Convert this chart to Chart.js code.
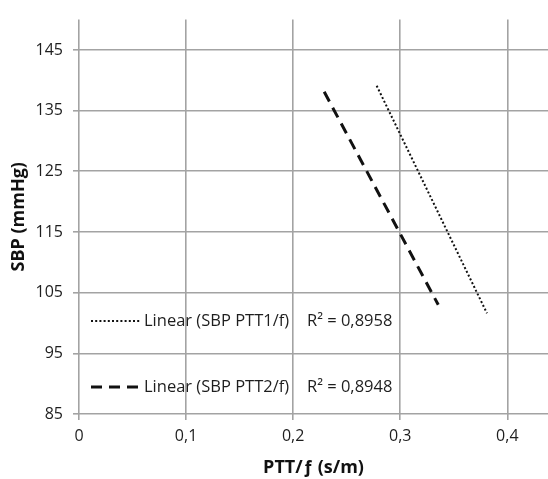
<!DOCTYPE html>
<html>
<head>
<meta charset="utf-8">
<script src="https://cdn.jsdelivr.net/npm/chart.js@4/dist/chart.umd.min.js"></script>
<style>
  html, body { margin: 0; padding: 0; background: #fff; overflow: hidden; }
  #wrap { position: relative; width: 548px; height: 479px; }
</style>
</head>
<body>
<div id="wrap"><canvas id="sbpChart"></canvas></div>
<script>
// trend lines SBP vs PTT/f (endpoints)
const seriesNames = ["Linear (SBP PTT1/f)", "Linear (SBP PTT2/f)"];
const r2Labels = ["R\u00B2 = 0,8958", "R\u00B2 = 0,8948"];
const ptt1X = [0.278, 0.381];
const ptt1Y = [139.1, 101.6];
const ptt2X = [0.229, 0.3355];
const ptt2Y = [138.1, 103.0];
const xTicks = [0, 0.1, 0.2, 0.3, 0.4];
const yTicks = [85, 95, 105, 115, 125, 135, 145];

const FONT = "'Open Sans', Lato, sans-serif";
const gridColor = "#a3a3a3";
const textColor = "#1e1e1e";

function toPoints(xs, ys) {
  return xs.map((x, i) => ({ x: x, y: ys[i] }));
}

// legend drawn inside plot, like the excel one
const insideLegend = {
  id: "insideLegend",
  afterDraw(chart) {
    const ctx = chart.ctx;
    const rowsY = [321, 387];
    ctx.save();
    rowsY.forEach((y, i) => {
      const ds = chart.data.datasets[i];
      ctx.beginPath();
      ctx.setLineDash(ds.borderDash);
      ctx.lineWidth = ds.borderWidth;
      ctx.strokeStyle = ds.borderColor;
      ctx.moveTo(91, y);
      ctx.lineTo(141, y);
      ctx.stroke();
      ctx.setLineDash([]);
      ctx.fillStyle = textColor;
      ctx.font = "16.5px " + FONT;
      ctx.textBaseline = "middle";
      ctx.textAlign = "left";
      ctx.fillText(seriesNames[i], 144, y);
      ctx.fillText(r2Labels[i], 307, y);
    });
    ctx.restore();
  },
};

const ctx = document.getElementById("sbpChart").getContext("2d");
new Chart(ctx, {
  type: "scatter",
  data: {
    datasets: [
      {
        label: seriesNames[0],
        data: toPoints(ptt1X, ptt1Y),
        showLine: true,
        borderColor: "#111",
        borderWidth: 2,
        borderDash: [2, 2.2],
        pointRadius: 0,
      },
      {
        label: seriesNames[1],
        data: toPoints(ptt2X, ptt2Y),
        showLine: true,
        borderColor: "#111",
        borderWidth: 3,
        borderDash: [11, 7],
        pointRadius: 0,
      },
    ],
  },
  options: {
    responsive: true,
    maintainAspectRatio: false,
    animation: false,
    layout: { padding: { top: 14, right: 0, left: 0, bottom: 0 } },
    plugins: {
      legend: { display: false },
      tooltip: { enabled: false },
    },
    scales: {
      x: {
        type: "linear",
        min: 0,
        max: 0.438,
        afterBuildTicks: (scale) => {
          scale.ticks = xTicks.map((v) => ({ value: v }));
        },
        afterFit: (scale) => {
          scale.height = 65;
        },
        border: { display: false },
        grid: { color: gridColor, lineWidth: 1.6, tickLength: 6 },
        ticks: {
          color: textColor,
          font: { family: FONT, size: 16 },
          padding: 7,
          callback: (v) => String(v).replace(".", ","),
        },
        title: {
          display: true,
          text: "PTT/\u0192 (s/m)",
          color: "#111",
          font: { family: FONT, size: 18, weight: "bold" },
          padding: { top: 0, bottom: 0 },
        },
      },
      y: {
        type: "linear",
        min: 85,
        max: 150,
        afterBuildTicks: (scale) => {
          scale.ticks = yTicks.map((v) => ({ value: v }));
        },
        afterFit: (scale) => {
          scale.width = 79;
        },
        border: { display: false },
        grid: { color: gridColor, lineWidth: 1.6, tickLength: 6 },
        ticks: {
          color: textColor,
          font: { family: FONT, size: 16 },
          padding: 10,
        },
        title: {
          display: true,
          text: "SBP (mmHg)",
          color: "#111",
          font: { family: FONT, size: 18, weight: "bold" },
          padding: { top: 8, bottom: 0 },
        },
      },
    },
  },
  plugins: [insideLegend],
});
</script>
</body>
</html>
